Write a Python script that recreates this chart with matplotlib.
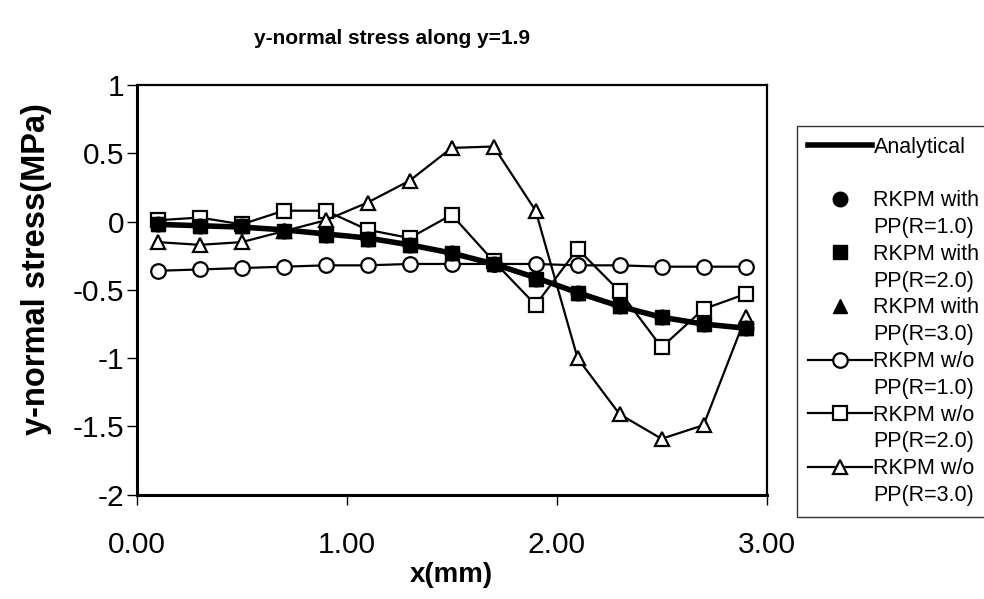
import numpy as np
import matplotlib
matplotlib.use('Agg')
import matplotlib.pyplot as plt
from matplotlib.lines import Line2D

plt.rcParams['font.family'] = ['Liberation Sans', 'DejaVu Sans']

# data
x = [0.1, 0.3, 0.5, 0.7, 0.9, 1.1, 1.3, 1.5, 1.7, 1.9, 2.1, 2.3, 2.5, 2.7, 2.9]
analytical = [-0.02, -0.03, -0.04, -0.06, -0.09, -0.12, -0.17, -0.23, -0.31, -0.41, -0.52, -0.62, -0.70, -0.75, -0.78]
with_r1 = [-0.02, -0.035, -0.035, -0.07, -0.10, -0.13, -0.17, -0.23, -0.31, -0.42, -0.52, -0.62, -0.70, -0.75, -0.78]
with_r2 = [-0.02, -0.035, -0.035, -0.07, -0.10, -0.13, -0.17, -0.23, -0.31, -0.42, -0.52, -0.62, -0.70, -0.75, -0.78]
with_r3 = [-0.02, -0.035, -0.035, -0.07, -0.10, -0.13, -0.17, -0.23, -0.31, -0.42, -0.52, -0.62, -0.70, -0.75, -0.78]
wo_r1 = [-0.36, -0.35, -0.34, -0.33, -0.32, -0.32, -0.31, -0.31, -0.31, -0.31, -0.32, -0.32, -0.33, -0.33, -0.33]
wo_r2 = [0.01, 0.03, -0.02, 0.08, 0.08, -0.06, -0.12, 0.05, -0.29, -0.61, -0.20, -0.51, -0.92, -0.64, -0.53]
wo_r3 = [-0.15, -0.17, -0.15, -0.07, 0.01, 0.14, 0.30, 0.54, 0.55, 0.08, -1.00, -1.41, -1.59, -1.49, -0.70]

xticks = [0, 1, 2, 3]
xtick_labels = ['0.00', '1.00', '2.00', '3.00']
yticks = [1, 0.5, 0, -0.5, -1, -1.5, -2]
ytick_labels = ['1', '0.5', '0', '-0.5', '-1', '-1.5', '-2']

fig = plt.figure(figsize=(9.84, 5.99), dpi=100)
ax = fig.add_axes([0.139, 0.174, 0.640, 0.684])

ms = 10.5
op = dict(color='black', lw=1.6, mfc='white', mec='black', mew=1.6, ms=ms)
h_wo1, = ax.plot(x, wo_r1, marker='o', **op)
h_wo2, = ax.plot(x, wo_r2, marker='s', **op)
h_wo3, = ax.plot(x, wo_r3, marker='^', **op)
h_an, = ax.plot(x, analytical, color='black', lw=4)
h_w1, = ax.plot(x, with_r1, ls='none', marker='o', color='black', ms=ms)
h_w3, = ax.plot(x, with_r3, ls='none', marker='^', color='black', ms=ms)
h_w2, = ax.plot(x, with_r2, ls='none', marker='s', color='black', ms=ms)

ax.set_xlim(0, 3)
ax.set_ylim(-2, 1)
ax.set_xticks(xticks)
ax.set_xticklabels(xtick_labels)
ax.set_yticks(yticks)
ax.set_yticklabels(ytick_labels)
ax.tick_params(labelsize=21.5, direction='out', length=7, width=1)
ax.tick_params(axis='x', pad=19)
ax.tick_params(axis='y', pad=2)
ax.spines['left'].set_linewidth(2.2)
ax.spines['bottom'].set_linewidth(2.2)
ax.spines['top'].set_linewidth(1.6)
ax.spines['right'].set_linewidth(1.6)

ax.set_xlabel('x(mm)', fontsize=20, fontweight='bold', labelpad=2)
ax.set_ylabel('y-normal stress(MPa)', fontsize=23.5, fontweight='bold')
ax.yaxis.set_label_coords(-0.135, 0.55)
fig.text(0.398, 0.936, 'y-normal stress along y=1.9', fontsize=15, fontweight='bold',
         ha='center', va='center')

blank = Line2D([], [], ls='none')
handles = [h_an, blank, h_w1, blank, h_w2, blank, h_w3, blank,
           h_wo1, blank, h_wo2, blank, h_wo3, blank]
labels = ['Analytical', ' ', 'RKPM with', 'PP(R=1.0)', 'RKPM with', 'PP(R=2.0)',
          'RKPM with', 'PP(R=3.0)', 'RKPM w/o', 'PP(R=1.0)', 'RKPM w/o', 'PP(R=2.0)',
          'RKPM w/o', 'PP(R=3.0)']
leg = fig.legend(handles, labels, loc='upper left', bbox_to_anchor=(0.81, 0.79),
                 fontsize=15.5, frameon=True, fancybox=False, edgecolor='black',
                 handlelength=3.0, handletextpad=0.05, labelspacing=0.27,
                 borderpad=0.5, borderaxespad=0)
leg.get_frame().set_linewidth(1.0)

fig.savefig('out.png', dpi=100)
